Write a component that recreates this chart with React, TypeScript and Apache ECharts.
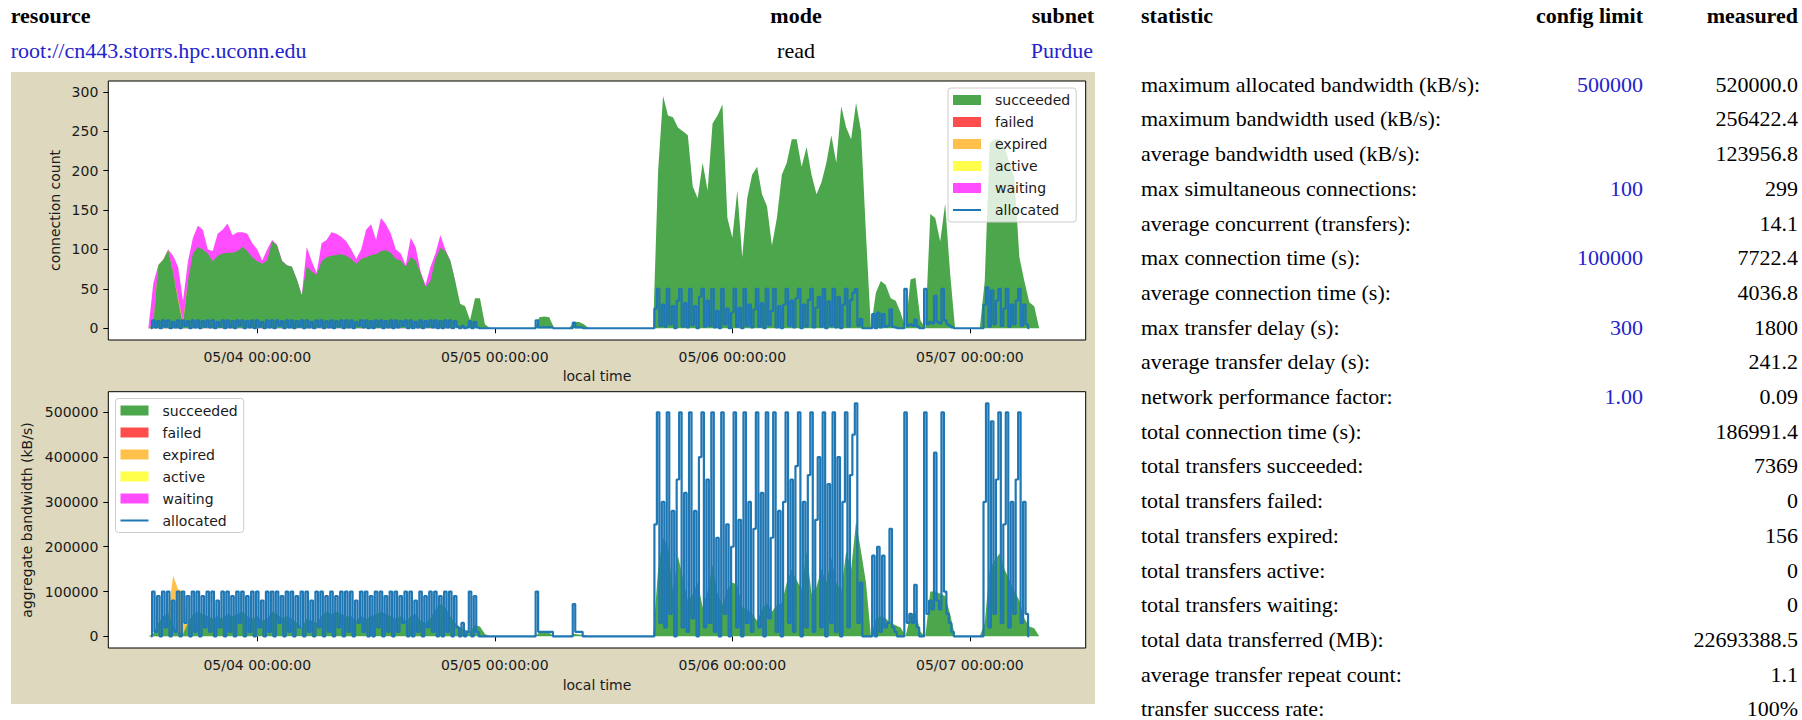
import React, { useEffect, useRef } from "react";
import * as echarts from "echarts";

// ---------- axes (time in hours since 05/03 00:00 local time) ----------
const dayTickHours = [24, 48, 72, 96];
const dayTickLabels = ["05/04 00:00:00", "05/05 00:00:00", "05/06 00:00:00", "05/07 00:00:00"];
const timeAxisMinHour = 8.95;
const timeAxisMaxHour = 107.7;
const countTicks = [0, 50, 100, 150, 200, 250, 300];
const countAxisRange = [-14.95, 313.95];
const bandwidthTicks = [0, 100000, 200000, 300000, 400000, 500000];
const bandwidthAxisRange = [-26000, 546000];

// ---------- stacked areas: samples every 0.5 h from 13:00 on 05/03 ----------
const areaStartHour = 13;
const areaStepHours = 0.5;

const succeededCount = [
  0, 5, 80, 87, 99, 70, 35, 5, 60, 95,
  103, 100, 95, 85, 92, 95, 96, 96, 98, 103,
  98, 90, 85, 82, 86, 110, 105, 85, 80, 78,
  62, 42, 78, 72, 68, 85, 90, 92, 93, 94,
  92, 88, 82, 88, 90, 93, 94, 98, 99, 96,
  88, 86, 78, 90, 86, 70, 52, 60, 88, 102,
  98, 86, 60, 31, 28, 10, 38, 38, 5, 0,
  0, 0, 0, 0, 0, 0, 0, 0, 0, 14,
  15, 14, 0, 0, 0, 0, 8, 8, 5, 0,
  0, 0, 0, 0, 0, 0, 0, 0, 0, 0,
  0, 0, 0, 200, 295, 270, 268, 255, 250, 245,
  180, 165, 210, 175, 260, 270, 284, 140, 115, 175,
  90, 165, 195, 205, 170, 155, 105, 140, 195, 210,
  240, 240, 205, 230, 195, 170, 185, 210, 245, 210,
  282, 255, 240, 286, 250, 120, 0, 45, 60, 55,
  38, 35, 20, 0, 62, 64, 10, 0, 145, 140,
  110, 158, 70, 0, 0, 0, 0, 0, 0, 60,
  235, 240, 240, 230, 210, 190, 90, 60, 33, 28,
  0, 0,
];
const expiredCount = [0, 0, 0, 0, 0, 0, 3, 4, 0];
const waitingCount = [
  0, 52, 0, 0, 1, 22, 40, 26, 25, 20,
  27, 25, 5, 13, 28, 30, 37, 22, 24, 19,
  22, 18, 15, 4, 14, 2, 1, 1, 0, 0,
  0, 0, 25, 13, 2, 23, 22, 30, 27, 22,
  18, 12, 6, 12, 35, 39, 18, 42, 33, 24,
  12, 9, 2, 25, 17, 2, 3, 18, 7, 16,
  2, 0, 0,
];

const succeededBandwidth = [
  0, 5000, 30000, 45000, 50000, 25000, 10000, 5000, 30000, 50000,
  55000, 50000, 45000, 40000, 45000, 40000, 50000, 45000, 50000, 55000,
  45000, 40000, 45000, 35000, 40000, 55000, 50000, 40000, 45000, 40000,
  30000, 20000, 40000, 35000, 30000, 45000, 55000, 50000, 55000, 50000,
  45000, 45000, 35000, 45000, 40000, 45000, 50000, 55000, 50000, 45000,
  40000, 45000, 35000, 45000, 50000, 35000, 30000, 40000, 60000, 72000,
  65000, 45000, 30000, 20000, 15000, 10000, 25000, 22000, 5000, 0,
  0, 0, 0, 0, 0, 0, 0, 0, 0, 8000,
  10000, 8000, 0, 0, 0, 0, 5000, 4000, 3000, 0,
  0, 0, 0, 0, 0, 0, 0, 0, 0, 0,
  0, 0, 0, 150000, 220000, 200000, 100000, 180000, 130000, 80000,
  95000, 120000, 65000, 100000, 160000, 95000, 70000, 105000, 120000, 115000,
  65000, 60000, 50000, 35000, 60000, 75000, 55000, 70000, 75000, 120000,
  150000, 125000, 105000, 190000, 95000, 110000, 150000, 120000, 175000, 120000,
  100000, 190000, 150000, 256000, 190000, 120000, 0, 40000, 45000, 40000,
  30000, 25000, 20000, 0, 48000, 55000, 10000, 0, 100000, 100000,
  95000, 90000, 50000, 0, 0, 0, 0, 0, 0, 30000,
  150000, 170000, 185000, 150000, 125000, 100000, 80000, 40000, 22000, 18000,
  0, 0,
];
const expiredBandwidth = [0, 0, 0, 0, 0, 110000, 95000, 95000, 0];

// ---------- allocated: samples every 0.25 h, in four active periods ----------
const allocStepHours = 0.25;
const allocPeriodStartHours = [13.25, 52, 64, 97.25];

const allocCountP1 = [
  0,
  10, 1, 9, 0, 10, 2, 10, 0, 8, 1, 10, 0,
  10, 3, 9, 0, 10, 1, 10, 0, 9, 2, 10, 1,
  10, 0, 8, 2, 10, 0, 10, 1, 9, 0, 10, 3,
  10, 0, 9, 1, 10, 0, 10, 2, 8, 0, 10, 1,
  10, 0, 10, 3, 9, 0, 10, 1, 10, 0, 9, 2,
  10, 0, 10, 1, 8, 0, 10, 2, 10, 0, 9, 1,
  10, 0, 9, 2, 10, 0, 10, 1, 10, 0, 8, 3,
  10, 1, 10, 0, 9, 0, 10, 2, 10, 0, 9, 1,
  10, 0, 10, 1, 9, 3, 10, 0, 10, 0, 8, 1,
  10, 0, 9, 2, 10, 1, 10, 0, 9, 0, 10, 1,
  10, 0, 9,
  2, 0, 3, 0, 1, 9, 0, 8, 1, 0, 0, 0,
];
const allocCountP2 = [0, 10, 1, 1, 1, 1, 1, 1, 0, 0, 0, 0, 0, 0, 0, 0, 7, 1, 1, 1, 0];
const allocCountP3 = [
  0,
  25, 50, 3, 30, 2, 50, 5, 28, 0, 35,
  50, 2, 32, 1, 50, 4, 28, 0, 40, 50,
  2, 35, 3, 50, 1, 22, 0, 50, 5, 25,
  0, 20, 50, 2, 26, 0, 50, 3, 30, 1,
  24, 50, 2, 32, 0, 50, 4, 22, 50, 1,
  28, 0, 30, 50, 3, 35, 1, 38, 50, 0,
  30, 2, 36, 50, 1, 26, 40, 2, 50, 0,
  34, 3, 50, 1, 40, 0, 30, 50, 2, 36,
  45, 50, 3, 12,
  0, 0, 0, 0, 18, 0, 20, 1, 18, 2, 3, 24, 2, 1, 0, 0, 0, 50, 3, 5,
  3, 11, 2, 0, 0, 50, 5, 8, 6, 41, 8, 6, 50, 10, 5, 3, 1, 0, 0, 0,
];
const allocCountP4 = [0, 30, 52, 2, 48, 5, 35, 50, 3, 25, 50, 2, 30, 5, 35, 50, 3, 30, 5, 0];

const allocBandwidthP1 = [
  0,
  100000, 10000, 90000, 0, 100000, 20000, 100000, 0, 80000, 10000, 100000, 0,
  100000, 30000, 90000, 0, 100000, 10000, 100000, 0, 90000, 20000, 100000, 10000,
  100000, 0, 80000, 20000, 100000, 0, 100000, 10000, 90000, 0, 100000, 30000,
  100000, 0, 90000, 10000, 100000, 0, 100000, 20000, 80000, 0, 100000, 10000,
  100000, 0, 100000, 30000, 90000, 0, 100000, 10000, 100000, 0, 90000, 20000,
  100000, 0, 100000, 10000, 80000, 0, 100000, 20000, 100000, 0, 90000, 10000,
  100000, 0, 90000, 20000, 100000, 0, 100000, 10000, 100000, 0, 80000, 30000,
  100000, 10000, 100000, 0, 90000, 0, 100000, 20000, 100000, 0, 90000, 10000,
  100000, 0, 100000, 10000, 90000, 30000, 100000, 0, 100000, 0, 80000, 10000,
  100000, 0, 90000, 20000, 100000, 10000, 100000, 0, 90000, 0, 100000, 10000,
  100000, 0, 90000,
  20000, 0, 30000, 0, 10000, 100000, 0, 90000, 10000, 0, 0, 0,
];
const allocBandwidthP2 = [0, 100000, 10000, 10000, 10000, 10000, 10000, 10000, 0, 0, 0, 0, 0, 0, 0, 0, 72000, 10000, 10000, 10000, 0];
const allocBandwidthP3 = [
  0,
  250000, 500000, 30000, 300000, 20000, 500000, 50000, 280000, 0, 350000,
  500000, 20000, 320000, 10000, 500000, 40000, 280000, 0, 400000, 500000,
  20000, 350000, 30000, 500000, 10000, 220000, 0, 500000, 50000, 250000,
  0, 200000, 500000, 20000, 260000, 0, 500000, 30000, 300000, 10000,
  240000, 500000, 20000, 320000, 0, 500000, 40000, 220000, 500000, 10000,
  280000, 0, 300000, 500000, 30000, 350000, 10000, 380000, 500000, 0,
  300000, 20000, 360000, 500000, 10000, 260000, 400000, 20000, 500000, 0,
  340000, 30000, 500000, 10000, 400000, 0, 300000, 500000, 20000, 360000,
  450000, 520000, 30000, 120000,
  0, 0, 0, 0, 180000, 0, 200000, 10000, 180000, 20000, 30000, 240000, 20000, 10000, 0, 0, 0, 500000, 30000, 50000,
  30000, 115000, 20000, 0, 0, 500000, 50000, 80000, 60000, 410000, 80000, 60000, 500000, 100000, 50000, 30000, 10000, 0, 0, 0,
];
const allocBandwidthP4 = [0, 300000, 520000, 20000, 480000, 50000, 350000, 500000, 30000, 250000, 500000, 20000, 300000, 50000, 350000, 500000, 30000, 300000, 50000, 0];

// ---------- header and statistics table ----------
const headerColumns = ["resource", "mode", "subnet"];
const headerValues = ["root://cn443.storrs.hpc.uconn.edu", "read", "Purdue"];
const statColumns = ["statistic", "config limit", "measured"];
const statNames = [
  "maximum allocated bandwidth (kB/s):",
  "maximum bandwidth used (kB/s):",
  "average bandwidth used (kB/s):",
  "max simultaneous connections:",
  "average concurrent (transfers):",
  "max connection time (s):",
  "average connection time (s):",
  "max transfer delay (s):",
  "average transfer delay (s):",
  "network performance factor:",
  "total connection time (s):",
  "total transfers succeeded:",
  "total transfers failed:",
  "total transfers expired:",
  "total transfers active:",
  "total transfers waiting:",
  "total data transferred (MB):",
  "average transfer repeat count:",
  "transfer success rate:",
];
const statLimits = ["500000", "", "", "100", "", "100000", "", "300", "", "1.00", "", "", "", "", "", "", "", "", ""];
const statMeasured = [
  "520000.0", "256422.4", "123956.8", "299", "14.1", "7722.4", "4036.8", "1800", "241.2", "0.09",
  "186991.4", "7369", "0", "156", "0", "0", "22693388.5", "1.1", "100%",
];

const legendNames = ["succeeded", "failed", "expired", "active", "waiting", "allocated"];

// ---------- styles ----------
const GREEN = "#4ca64c";
const RED = "#ff4c4c";
const ORANGE = "#ffc04c";
const YELLOW = "#ffff4c";
const MAGENTA = "#ff4cff";
const BLUE = "#1f77b4";
const LINK = "#2323cc";
const SERIF = "Liberation Serif";
const SANS = "DejaVu Sans";
const TEXT = "#1a1a1a";

const areaColors: Record<string, string> = {
  succeeded: GREEN, failed: RED, expired: ORANGE, active: YELLOW, waiting: MAGENTA,
};

// Stack the layers (bottom to top): each layer's upper edge is the running sum
// of the layers beneath it plus its own value.
function stackedTops(layers: number[][]) {
  const tops: number[][] = [];
  layers.forEach((layer, k) => {
    tops.push(layer.map((v, i) => {
      let sum = v;
      for (let j = 0; j < k; j++) sum += layers[j][i] || 0;
      return sum;
    }));
  });
  return tops;
}

function areaPairs(values: number[]) {
  return values.map((v, i) => [areaStartHour + i * areaStepHours, v]);
}

function periodPairs(periods: number[][]) {
  const out: number[][] = [];
  periods.forEach((seg, p) => {
    seg.forEach((v, i) => out.push([allocPeriodStartHours[p] + i * allocStepHours, v]));
  });
  return out;
}

function areaSeries(name: string, tops: number[], idx: number) {
  const color = areaColors[name];
  return {
    type: "line",
    name,
    xAxisIndex: idx,
    yAxisIndex: idx,
    symbol: "none",
    showSymbol: false,
    silent: true,
    lineStyle: { width: 0, color },
    itemStyle: { color },
    areaStyle: { color, opacity: 1 },
    emphasis: { disabled: true },
    data: areaPairs(tops),
    z: 2,
  };
}

function allocatedSeries(periods: number[][], idx: number) {
  return {
    type: "line",
    name: "allocated",
    xAxisIndex: idx,
    yAxisIndex: idx,
    symbol: "none",
    showSymbol: false,
    silent: true,
    step: "middle",
    lineStyle: { width: 2.2, color: BLUE },
    itemStyle: { color: BLUE },
    emphasis: { disabled: true },
    data: periodPairs(periods),
    z: 3,
  };
}

function legendOption(left: number, top: number) {
  return {
    orient: "vertical",
    left,
    top,
    itemWidth: 28,
    itemHeight: 10,
    itemGap: 8,
    padding: [5, 6, 5, 5],
    borderColor: "#cccccc",
    borderWidth: 1,
    borderRadius: 3,
    backgroundColor: "rgba(255,255,255,0.8)",
    selectedMode: false,
    z: 10,
    textStyle: { fontFamily: SANS, fontSize: 14, color: TEXT, lineHeight: 14, padding: [0, 0, 0, 9] },
    data: legendNames.map((name) =>
      name === "allocated"
        ? { name, icon: "path://M0,0L28,0L28,2L0,2Z", itemStyle: { color: BLUE, borderWidth: 0 } }
        : { name, icon: "rect", itemStyle: { color: areaColors[name], borderWidth: 0 } }
    ),
  };
}

function xAxisOption(idx: number) {
  return {
    type: "value",
    gridIndex: idx,
    min: timeAxisMinHour,
    max: timeAxisMaxHour,
    axisLine: { show: false },
    splitLine: { show: false },
    axisTick: { show: true, length: 5, lineStyle: { color: "#000", width: 1 }, customValues: dayTickHours },
    axisLabel: {
      customValues: dayTickHours,
      margin: 10,
      fontFamily: SANS,
      fontSize: 14,
      color: TEXT,
      formatter: (v: number) => {
        const i = dayTickHours.indexOf(Math.round(v));
        return i >= 0 ? dayTickLabels[i] : "";
      },
    },
  };
}

function yAxisOption(idx: number, range: number[], ticks: number[]) {
  return {
    type: "value",
    gridIndex: idx,
    min: range[0],
    max: range[1],
    axisLine: { show: false },
    splitLine: { show: false },
    axisTick: { show: true, length: 5, lineStyle: { color: "#000", width: 1 }, customValues: ticks },
    axisLabel: {
      customValues: ticks,
      margin: 10,
      fontFamily: SANS,
      fontSize: 14,
      color: TEXT,
      formatter: (v: number) => String(Math.round(v)),
    },
  };
}

function text(x: number, y: number, t: string, opts: any = {}) {
  return {
    type: "text",
    x,
    y,
    rotation: opts.rotation || 0,
    silent: true,
    style: {
      text: t,
      fontFamily: opts.family || SERIF,
      fontSize: opts.size || 22,
      fontWeight: opts.bold ? "bold" : "normal",
      fill: opts.fill || "#000",
      textAlign: opts.align || "left",
      textVerticalAlign: "middle",
    },
  };
}

function buildGraphics() {
  const g: any[] = [];
  const headerX = [10.7, 796, 1094];
  const headerAlign = ["left", "center", "right"];
  headerColumns.forEach((h, i) => g.push(text(headerX[i], 15.8, h, { bold: true, align: headerAlign[i] })));
  headerValues.forEach((v, i) =>
    g.push(text(i === 2 ? 1093 : headerX[i], 50.8, v, { align: headerAlign[i], fill: i === 1 ? "#000" : LINK }))
  );
  const statX = [1141, 1643, 1798];
  const statAlign = ["left", "right", "right"];
  statColumns.forEach((c, i) => g.push(text(statX[i], 15.8, c, { bold: true, align: statAlign[i] })));
  statNames.forEach((name, r) => {
    const y = 84.2 + r * 34.7;
    g.push(text(statX[0], y, name));
    if (statLimits[r]) g.push(text(statX[1], y, statLimits[r], { align: "right", fill: LINK }));
    g.push(text(statX[2], y, statMeasured[r], { align: "right" }));
  });
  g.push(text(55.3, 210.5, "connection count", { family: SANS, size: 14, align: "center", rotation: Math.PI / 2, fill: TEXT }));
  g.push(text(27.2, 520, "aggregate bandwidth (kB/s)", { family: SANS, size: 14, align: "center", rotation: Math.PI / 2, fill: TEXT }));
  g.push(text(597, 376, "local time", { family: SANS, size: 14, align: "center", fill: TEXT }));
  g.push(text(597, 685, "local time", { family: SANS, size: 14, align: "center", fill: TEXT }));
  return g;
}

export default function App() {
  const ref = useRef<HTMLDivElement>(null);

  useEffect(() => {
    if (!ref.current) return;
    const chart = echarts.init(ref.current, undefined, { renderer: "svg" });
    const gridBase = { show: true, backgroundColor: "#ffffff", borderColor: "#000000", borderWidth: 1, containLabel: false };
    const [topSucc, topFailed, topExpired, topActive, topWaiting] = stackedTops([
      succeededCount, [], expiredCount, [], waitingCount,
    ]);
    const [bwSucc, bwFailed, bwExpired, bwActive, bwWaiting] = stackedTops([
      succeededBandwidth, [], expiredBandwidth, [], [],
    ]);
    chart.setOption({
      animation: false,
      backgroundColor: "transparent",
      textStyle: { fontFamily: SANS },
      grid: [
        { ...gridBase, left: 108.3, top: 81, width: 977.4, height: 259 },
        { ...gridBase, left: 108.3, top: 391.7, width: 977.4, height: 256.3 },
      ],
      xAxis: [xAxisOption(0), xAxisOption(1)],
      yAxis: [yAxisOption(0, countAxisRange, countTicks), yAxisOption(1, bandwidthAxisRange, bandwidthTicks)],
      legend: [legendOption(948, 88), legendOption(115.5, 398.5)],
      graphic: buildGraphics(),
      // upper layers first, so the lower layers are painted over them
      series: [
        areaSeries("waiting", topWaiting, 0),
        areaSeries("active", topActive, 0),
        areaSeries("expired", topExpired, 0),
        areaSeries("failed", topFailed, 0),
        areaSeries("succeeded", topSucc, 0),
        allocatedSeries([allocCountP1, allocCountP2, allocCountP3, allocCountP4], 0),
        areaSeries("waiting", bwWaiting, 1),
        areaSeries("active", bwActive, 1),
        areaSeries("expired", bwExpired, 1),
        areaSeries("failed", bwFailed, 1),
        areaSeries("succeeded", bwSucc, 1),
        allocatedSeries([allocBandwidthP1, allocBandwidthP2, allocBandwidthP3, allocBandwidthP4], 1),
      ],
    });
    return () => chart.dispose();
  }, []);

  return (
    <div style={{ position: "absolute", left: 0, top: 0, width: 1802, height: 720, background: "#ffffff" }}>
      <div
        style={{ position: "absolute", left: 10.7, top: 71.5, width: 1084, height: 632, background: "#ddd8be" }}
      />
      <div ref={ref} style={{ position: "absolute", left: 0, top: 0, width: 1802, height: 720 }} />
    </div>
  );
}
